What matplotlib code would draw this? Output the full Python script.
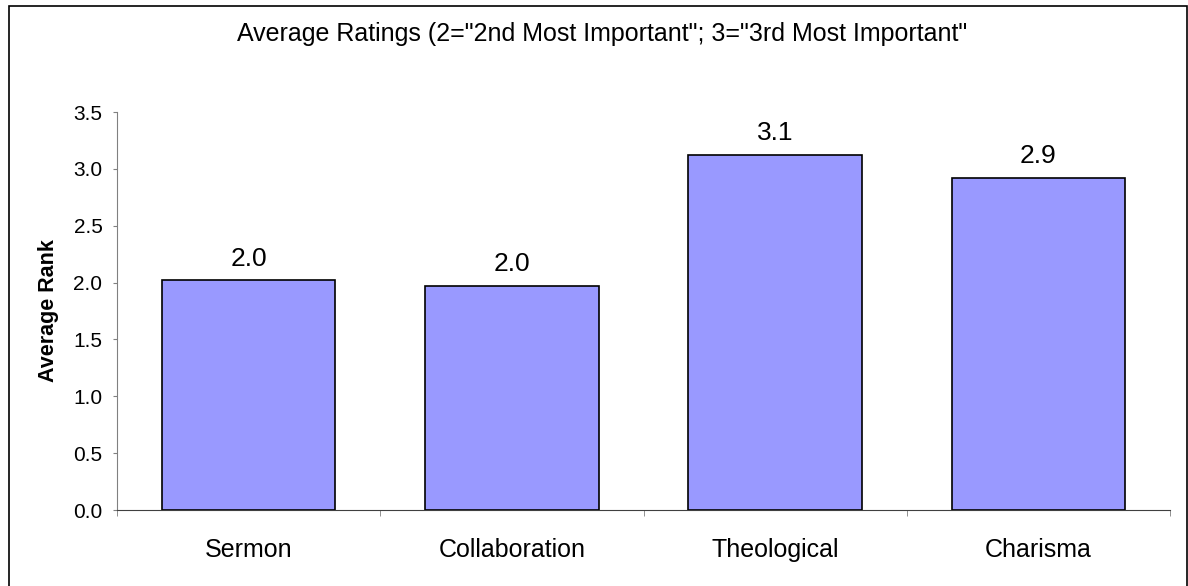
import matplotlib
matplotlib.use("Agg")
import matplotlib.pyplot as plt
from matplotlib.patches import Rectangle

plt.rcParams['font.family'] = ['Liberation Sans', 'DejaVu Sans']

categories = ['Sermon', 'Collaboration', 'Theological', 'Charisma']
avg_rank = [2.02, 1.97, 3.12, 2.92]
yticks = [0.0, 0.5, 1.0, 1.5, 2.0, 2.5, 3.0, 3.5]

fig = plt.figure(figsize=(11.88, 5.86), dpi=100)
ax = fig.add_axes([117/1188, 76/586, (1170-117)/1188, (510-112)/586])

x = range(len(categories))
bars = ax.bar(x, avg_rank, width=0.66, color='#9999ff', edgecolor='black', linewidth=1.2)
ax.bar_label(bars, labels=['%.1f' % v for v in avg_rank], padding=7, fontsize=19)

ax.set_xlim(-0.5, len(categories) - 0.5)
ax.set_ylim(0, 3.5)
ax.set_yticks(yticks)
ax.set_yticklabels(['%.1f' % t for t in yticks], fontsize=15)
ax.set_xticks(list(x))
ax.set_xticklabels(categories, fontsize=18)
ax.set_xticks([i - 0.5 for i in range(len(categories) + 1)], minor=True)
ax.tick_params(axis='x', which='major', length=0, pad=20)
ax.tick_params(axis='x', which='minor', length=4.5, color='#808080', direction='out')
ax.tick_params(axis='y', length=3, color='#808080', pad=7.5)

ax.set_ylabel('Average Rank', fontsize=15.5, fontweight='bold', labelpad=10)

for s in ['top', 'right']:
    ax.spines[s].set_visible(False)
ax.spines['left'].set_color('#808080')
ax.spines['bottom'].set_color('#404040')

fig.text(602/1188, 1 - 34/586, 'Average Ratings (2="2nd Most Important"; 3="3rd Most Important"',
         ha='center', va='center', fontsize=18)

frame = Rectangle((8.5/1188, -0.05), (1187 - 8.5)/1188, 1.05 - 5.5/586,
                  transform=fig.transFigure, fill=False, edgecolor='black', linewidth=1.2)
fig.patches.append(frame)

fig.savefig('out.png', dpi=100)
